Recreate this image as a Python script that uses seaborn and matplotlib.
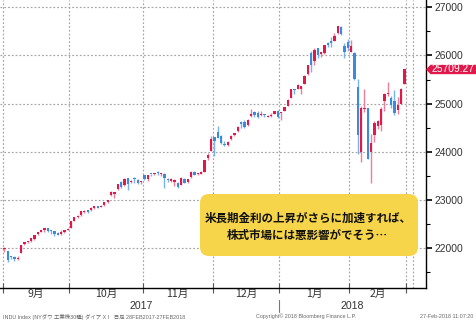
import numpy as np
import pandas as pd
import seaborn as sns
import matplotlib
matplotlib.use("Agg")
import matplotlib.pyplot as plt
from matplotlib import transforms
from matplotlib.patches import FancyBboxPatch, Polygon

# ---- data: DJIA daily candles, Sep 2017 - Feb 2018 ----
month_labels = ["9月", "10月", "11月", "12月", "1月", "2月"]
month_sessions = [20, 22, 21, 20, 21, 17]
year_labels = ["2017", "2018"]

open_ = [
    21981, 21949, 21830, 21815, 21780, 21900, 22080, 22120, 22150, 22200,
    22290, 22340, 22380, 22410, 22360, 22350, 22310, 22290, 22330, 22380,
    22423, 22570, 22640, 22680, 22760, 22780, 22790, 22830, 22870, 22860,
    22890, 22960, 23100, 23120, 23220, 23380, 23310, 23450, 23380, 23440,
    23420, 23370,
    23510, 23440, 23540, 23530, 23560, 23540, 23550, 23440, 23400, 23370,
    23360, 23320, 23440, 23370, 23470, 23580, 23540, 23550, 23590, 23880,
    24010,
    24300, 24420, 24330, 24170, 24140, 24260, 24340, 24430, 24620, 24620,
    24560, 24740, 24830, 24800, 24760, 24770, 24720, 24740, 24790, 24850,
    24810, 24850, 24960, 25115, 25310, 25310, 25310, 25400, 25610, 26060,
    25880, 26150, 26030, 26050, 26250, 26300, 26290, 26460, 26580, 26200,
    26270,
    26080, 26060, 25340, 24000, 24880, 24900, 23990, 24340, 24540, 24560,
    25050, 25190, 25120, 25060, 24860, 25000, 25410,
]
high = [
    22016, 21949, 21845, 21830, 21830, 22060, 22120, 22160, 22210, 22270,
    22345, 22375, 22415, 22420, 22370, 22360, 22330, 22370, 22385, 22420,
    22560, 22645, 22685, 22777, 22790, 22790, 22850, 22875, 22880, 22890,
    22960, 23000, 23180, 23170, 23330, 23390, 23450, 23460, 23420, 23470,
    23430, 23400,
    23520, 23520, 23550, 23560, 23600, 23570, 23560, 23460, 23460, 23440,
    23380, 23470, 23450, 23440, 23600, 23600, 23560, 23600, 23840, 23980,
    24330,
    24310, 24530, 24350, 24230, 24230, 24350, 24390, 24530, 24640, 24670,
    24690, 24880, 24840, 24850, 24850, 24780, 24770, 24800, 24840, 24870,
    24830, 24940, 25100, 25300, 25310, 25400, 25370, 25590, 25810, 26090,
    26150, 26160, 26080, 26220, 26270, 26390, 26460, 26620, 26610, 26260,
    26340,
    26310, 26080, 25520, 24950, 25300, 24910, 24380, 24650, 24670, 24930,
    25230, 25440, 25160, 25290, 25130, 25330, 25720,
]
low = [
    21930, 21710, 21780, 21740, 21760, 21900, 22060, 22100, 22130, 22180,
    22280, 22330, 22340, 22340, 22300, 22250, 22270, 22270, 22310, 22370,
    22420, 22560, 22620, 22670, 22730, 22740, 22780, 22820, 22830, 22850,
    22880, 22940, 23090, 23040, 23210, 23260, 23290, 23200, 23350, 23360,
    23330, 23340,
    23420, 23400, 23500, 23510, 23520, 23500, 23250, 23380, 23380, 23300,
    23240, 23310, 23350, 23350, 23460, 23510, 23520, 23530, 23580, 23840,
    24010,
    23920, 24280, 24170, 24130, 24120, 24250, 24330, 24420, 24500, 24500,
    24540, 24730, 24730, 24700, 24750, 24730, 24720, 24720, 24780, 24710,
    24660, 24840, 24960, 25110, 25210, 25300, 25200, 25400, 25600, 25650,
    25800, 25950, 25960, 26030, 26180, 26180, 26290, 26440, 26420, 25950,
    26100,
    26070, 25490, 23960, 23780, 24820, 23850, 23360, 24200, 24470, 24440,
    24840, 25150, 24900, 24770, 24790, 25000, 25400,
]
close = [
    21988, 21753, 21808, 21785, 21798, 22057, 22119, 22158, 22203, 22268,
    22331, 22371, 22413, 22359, 22350, 22296, 22284, 22341, 22381, 22405,
    22558, 22642, 22662, 22775, 22774, 22761, 22831, 22873, 22841, 22872,
    22957, 22997, 23158, 23163, 23329, 23274, 23442, 23329, 23401, 23434,
    23349, 23377,
    23435, 23516, 23539, 23548, 23557, 23563, 23462, 23422, 23440, 23409,
    23271, 23458, 23358, 23430, 23591, 23526, 23558, 23581, 23837, 23941,
    24272,
    24232, 24290, 24181, 24141, 24211, 24329, 24386, 24505, 24585, 24509,
    24652, 24792, 24755, 24727, 24782, 24754, 24746, 24774, 24838, 24719,
    24824, 24923, 25075, 25296, 25283, 25386, 25369, 25575, 25803, 25793,
    26116, 26018, 26072, 26215, 26211, 26252, 26393, 26617, 26439, 26077,
    26149,
    26187, 25521, 24346, 24913, 24893, 23860, 24191, 24601, 24640, 24893,
    25200, 25219, 24965, 24798, 24962, 25310, 25709.27,
]

y_ticks = [22000, 23000, 24000, 25000, 26000, 27000]
headline = ["米長期金利の上昇がさらに加速すれば、", "株式市場には悪影響がでそう…"]
footer_left = "INDU Index (NYダウ 工業株30種) ダイア X I   日足 28FEB2017-27FEB2018"
footer_mid = "Copyright© 2018 Bloomberg Finance L.P."
footer_right = "27-Feb-2018 11:07:20"

UP, DOWN = "#e2184a", "#3a8be0"
UP_WICK, DOWN_WICK = "#ee7f9a", "#7ab2ec"
GRID = "#a4a4a4"

df = pd.DataFrame({"open": open_, "high": high, "low": low, "close": close})
df["idx"] = np.arange(len(df))
df["up"] = df["close"] >= df["open"]
df["bottom"] = df[["open", "close"]].min(axis=1)
df["body"] = (df["close"] - df["open"]).abs().clip(lower=22)

sns.set_theme(style="white")
plt.rcParams["font.family"] = ["Liberation Sans", "Noto Sans CJK JP", "DejaVu Sans"]
cjk = ["Noto Sans CJK JP", "DejaVu Sans"]

fig = plt.figure(figsize=(4.76, 3.25), dpi=100)
ax = fig.add_axes([0, 37 / 325, 426 / 476, 288 / 325])
ax.set_xlim(-1.3, 126.5)
ax.set_ylim(21175, 27150)

# month boundaries (between sessions), incl. the start of March
bounds = np.concatenate([[-0.5], np.cumsum(month_sessions) - 0.5, [122.5]])
for b in bounds:
    ax.axvline(b, color=GRID, lw=0.85, ls=(0, (1.5, 1.7)), zorder=0)
for yv in y_ticks:
    ax.axhline(yv, color=GRID, lw=0.85, ls=(0, (1.5, 1.7)), zorder=0)

# candles: wicks then bodies
ax.vlines(df["idx"], df["low"], df["high"],
          colors=np.where(df["up"], UP_WICK, DOWN_WICK), lw=1.0, zorder=2)
ax.bar(df["idx"], df["body"], bottom=df["bottom"], width=0.7,
       color=np.where(df["up"], UP, DOWN), linewidth=0, zorder=3)

# axes frame
for side in ["left", "top"]:
    ax.spines[side].set_visible(False)
for side in ["right", "bottom"]:
    ax.spines[side].set_visible(True)
    ax.spines[side].set_color("black")
    ax.spines[side].set_linewidth(1.0)

ax.yaxis.tick_right()
ax.set_yticks(y_ticks)
ax.set_yticklabels([str(v) for v in y_ticks])
ax.set_yticks([v + 500 for v in y_ticks[:-1]] + [21500], minor=True)
ax.tick_params(axis="y", which="major", direction="out", length=4, width=1.2,
               color="black", labelsize=7.4, labelcolor="#333333", pad=2,
               right=True, left=False)
ax.tick_params(axis="y", which="minor", direction="out", length=3, width=0.8,
               color="black", right=True, left=False)

ax.set_xticks(bounds[:-1], minor=True)
ax.set_xticks([])
ax.tick_params(axis="x", which="minor", direction="inout", length=7, width=0.8,
               color="#555555", bottom=True)

xtr = transforms.blended_transform_factory(ax.transData, ax.transAxes)
for i, lab in enumerate(month_labels):
    cx = (bounds[i] + bounds[i + 1]) / 2
    ax.text(cx, -0.021, lab, transform=xtr, ha="center", va="center",
            fontsize=7.6, color="#333333", family=cjk)

ax.text((bounds[0] + bounds[4]) / 2, -0.062, year_labels[0], transform=xtr,
        ha="center", va="center", fontsize=7.6, color="#333333")
ax.text((bounds[4] + 126.5) / 2, -0.062, year_labels[1], transform=xtr,
        ha="center", va="center", fontsize=7.6, color="#333333")
ax.plot([bounds[4], bounds[4]], [-0.042, -0.083], transform=xtr,
        color="#777777", lw=0.8, clip_on=False)

# last-price tag on the value axis
last = close[-1]
ptr = transforms.blended_transform_factory(fig.transFigure, ax.transData)
h = 4.7 * (27150 - 21175) / 288
tag = Polygon([(426 / 476, last), (430.5 / 476, last + h), (1.0, last + h),
               (1.0, last - h), (430.5 / 476, last - h)],
              closed=True, transform=ptr, facecolor=UP, edgecolor="none",
              clip_on=False, zorder=5)
fig.add_artist(tag)
fig.text(453.5 / 476, last, f"{last:.2f}", transform=ptr, ha="center",
         va="center", fontsize=7.4, color="white", zorder=6)

# headline box
box = FancyBboxPatch((2.00, 0.69), 2.18, 0.62,
                     boxstyle="round,pad=0,rounding_size=0.09",
                     transform=fig.dpi_scale_trans, facecolor="#f6d54a",
                     edgecolor="none", zorder=10)
fig.add_artist(box)
fig.text(3.085, 1.07, headline[0], transform=fig.dpi_scale_trans,
         ha="center", va="center", fontsize=8.3, fontweight="bold",
         color="#111111", family=cjk, zorder=11)
fig.text(3.075, 0.90, headline[1], transform=fig.dpi_scale_trans,
         ha="center", va="center", fontsize=8.3, fontweight="bold",
         color="#111111", family=cjk, zorder=11)

# footer
fy = 1 - 316.5 / 325
fig.text(3 / 476, fy, footer_left, ha="left", va="center", fontsize=3.9,
         color="#666666", family=["Liberation Sans", "Noto Sans CJK JP"])
fig.text(306 / 476, fy, footer_mid, ha="center", va="center", fontsize=3.9,
         color="#666666")
fig.text(473 / 476, fy, footer_right, ha="right", va="center", fontsize=3.9,
         color="#666666")

fig.savefig("out.png", dpi=100)
